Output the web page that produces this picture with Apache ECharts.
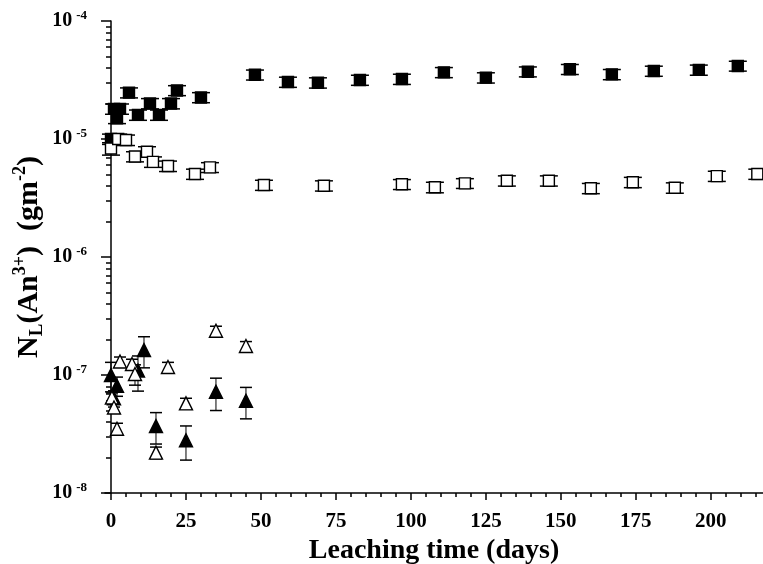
<!DOCTYPE html>
<html>
<head>
<meta charset="utf-8">
<script src="https://cdn.jsdelivr.net/npm/echarts@6/dist/echarts.min.js"></script>
<style>
html, body { margin: 0; padding: 0; background: #fff; }
#chart { width: 763px; height: 564px; }
</style>
</head>
<body>
<div id="chart"></div>
<script>
// leaching time (days) / N_L (g m^-2) / error (+-)
var fsqDays = [0, 1, 3, 2, 6, 9, 13, 16, 20, 22, 30, 48, 59, 69, 83, 97, 111, 125, 139, 153, 167, 181, 196, 209];
var fsqVals = [1.0e-5, 1.8e-5, 1.8e-5, 1.5e-5, 2.47e-5, 1.6e-5, 2.0e-5, 1.6e-5, 2.0e-5, 2.58e-5, 2.25e-5, 3.5e-5, 3.04e-5, 3.0e-5, 3.16e-5, 3.22e-5, 3.67e-5, 3.31e-5, 3.72e-5, 3.9e-5, 3.53e-5, 3.77e-5, 3.85e-5, 4.16e-5];
var fsqErr  = [1.0e-6, 1.8e-6, 1.8e-6, 1.5e-6, 2.4e-6, 1.6e-6, 2.0e-6, 1.6e-6, 2.0e-6, 2.5e-6, 2.2e-6, 3.4e-6, 3.0e-6, 3.0e-6, 3.1e-6, 3.2e-6, 3.6e-6, 3.3e-6, 3.6e-6, 3.8e-6, 3.5e-6, 3.7e-6, 3.8e-6, 4.0e-6];

var osqDays = [0, 2.4, 5, 8, 12, 14, 19, 28, 33, 51, 71, 97, 108, 118, 132, 146, 160, 174, 188, 202, 215.5];
var osqVals = [8.3e-6, 1.0e-5, 9.8e-6, 7.1e-6, 7.8e-6, 6.4e-6, 5.9e-6, 5.05e-6, 5.75e-6, 4.07e-6, 4.02e-6, 4.13e-6, 3.9e-6, 4.21e-6, 4.43e-6, 4.43e-6, 3.82e-6, 4.3e-6, 3.86e-6, 4.85e-6, 5.05e-6];
var osqErr  = [1.0e-6, 1.0e-6, 1.0e-6, 7.0e-7, 8.0e-7, 6.5e-7, 6.0e-7, 5.0e-7, 5.5e-7, 4.0e-7, 4.0e-7, 4.0e-7, 4.0e-7, 4.0e-7, 4.4e-7, 4.4e-7, 3.8e-7, 4.3e-7, 3.9e-7, 4.8e-7, 5.0e-7];

var ftrDays = [0, 1, 2, 9, 11, 15, 25, 35, 45];
var ftrVals = [1.0e-7, 6.35e-8, 8.1e-8, 1.09e-7, 1.63e-7, 3.7e-8, 2.8e-8, 7.2e-8, 6.05e-8];
var ftrErr  = [2.8e-8, 1.0e-8, 1.5e-8, 3.6e-8, 4.8e-8, 1.1e-8, 0.9e-8, 2.2e-8, 1.8e-8];

var otrDays = [0.3, 1, 2, 3, 7, 8, 15, 19, 25, 35, 45];
var otrVals = [6.45e-8, 5.3e-8, 3.5e-8, 1.3e-7, 1.24e-7, 1.02e-7, 2.2e-8, 1.17e-7, 5.75e-8, 2.37e-7, 1.76e-7];
var otrErr  = [6.0e-9, 5.0e-9, 4.0e-9, 1.2e-8, 1.2e-8, 2.0e-8, 2.5e-9, 1.1e-8, 6.0e-9, 2.2e-8, 1.6e-8];

var xMajor = [0, 25, 50, 75, 100, 125, 150, 175, 200];
var xMinor = [0, 5, 10, 15, 20, 25, 30, 35, 40, 45, 50, 55, 60, 65, 70, 75, 80, 85, 90, 95, 100, 105, 110, 115, 120, 125, 130, 135, 140, 145, 150, 155, 160, 165, 170, 175, 180, 185, 190, 195, 200, 205, 210, 215];
var yMajor = [1e-8, 1e-7, 1e-6, 1e-5, 1e-4];
var yMinor = [2e-8, 3e-8, 4e-8, 5e-8, 6e-8, 7e-8, 8e-8, 9e-8,
              2e-7, 3e-7, 4e-7, 5e-7, 6e-7, 7e-7, 8e-7, 9e-7,
              2e-6, 3e-6, 4e-6, 5e-6, 6e-6, 7e-6, 8e-6, 9e-6,
              2e-5, 3e-5, 4e-5, 5e-5, 6e-5, 7e-5, 8e-5, 9e-5];

var FONT = 'Liberation Serif';

function pts(d, v) { return d.map(function (x, i) { return [x, v[i]]; }); }
function bars(d, v, e) { return d.map(function (x, i) { return [x, v[i] - e[i], v[i] + e[i]]; }); }

function errRender(capW) {
    return function (params, api) {
        var x = api.value(0);
        var lo = api.coord([x, api.value(1)]);
        var hi = api.coord([x, api.value(2)]);
        return {
            type: 'group',
            children: [
                { type: 'line', shape: { x1: lo[0], y1: lo[1], x2: hi[0], y2: hi[1] }, style: { stroke: '#000', lineWidth: 1 } },
                { type: 'line', shape: { x1: lo[0] - capW, y1: lo[1], x2: lo[0] + capW, y2: lo[1] }, style: { stroke: '#000', lineWidth: 1.5 } },
                { type: 'line', shape: { x1: hi[0] - capW, y1: hi[1], x2: hi[0] + capW, y2: hi[1] }, style: { stroke: '#000', lineWidth: 1.5 } }
            ]
        };
    };
}

function errSeries(d, v, e, capW) {
    return {
        type: 'custom', renderItem: errRender(capW), data: bars(d, v, e),
        encode: { x: 0, y: [1, 2] }, z: 2, silent: true, clip: false
    };
}

function markSeries(d, v, symbol, size, filled) {
    return {
        type: 'scatter', data: pts(d, v), symbol: symbol, symbolSize: size, z: 3,
        itemStyle: { color: filled ? '#000' : '#fff', borderColor: '#000', borderWidth: 1.4, opacity: 1 },
        silent: true
    };
}

var chart = echarts.init(document.getElementById('chart'));
var option = {
    animation: false,
    backgroundColor: '#fff',
    grid: { left: 105, right: 0, top: 21, bottom: 71, containLabel: false, outerBoundsMode: 'none' },
    xAxis: [{
        type: 'value', min: -2, max: 217.4,
        name: 'Leaching time (days)', nameLocation: 'middle', nameGap: 41,
        nameTextStyle: { fontFamily: FONT, fontWeight: 'bold', fontSize: 28, color: '#000' },
        axisLine: { lineStyle: { color: '#000', width: 1.5 } },
        axisTick: { customValues: xMajor, length: 7, lineStyle: { color: '#000', width: 1.5 } },
        axisLabel: { customValues: xMajor, margin: 18, fontFamily: FONT, fontWeight: 'bold', fontSize: 21, color: '#000' },
        splitLine: { show: false }
    }, {
        type: 'value', min: -2, max: 217.4, position: 'bottom',
        axisLine: { show: false },
        axisTick: { customValues: xMinor, length: 4, lineStyle: { color: '#000', width: 1.5 } },
        axisLabel: { show: false },
        splitLine: { show: false }
    }],
    yAxis: [{
        type: 'log', logBase: 10, min: 1e-8, max: 1e-4,
        name: '{n|N}{sub|L}{n|(An}{sup|3+}{n|)  (gm}{sup|-2}{n|)}',
        nameLocation: 'middle', nameGap: 58, nameMoveOverlap: false,
        nameTextStyle: {
            color: '#000',
            rich: {
                n: { fontFamily: FONT, fontWeight: 'bold', fontSize: 30, lineHeight: 36 },
                sub: { fontFamily: FONT, fontWeight: 'bold', fontSize: 19, verticalAlign: 'bottom', lineHeight: 18 },
                sup: { fontFamily: FONT, fontWeight: 'bold', fontSize: 18, verticalAlign: 'top', lineHeight: 17 }
            }
        },
        axisLine: { lineStyle: { color: '#000', width: 1.5 } },
        axisTick: { customValues: yMajor, length: 10, lineStyle: { color: '#000', width: 1.5 } },
        axisLabel: {
            customValues: yMajor, margin: 18,
            formatter: function (v) {
                return '{b|10}{s|' + Math.round(Math.log10(v)) + '}';
            },
            rich: {
                b: { fontFamily: FONT, fontWeight: 'bold', fontSize: 20, color: '#000', lineHeight: 24 },
                s: { fontFamily: FONT, fontWeight: 'bold', fontSize: 13, color: '#000', verticalAlign: 'top', lineHeight: 13, padding: [0, 0, 0, 4] }
            }
        },
        splitLine: { show: false }
    }, {
        type: 'log', logBase: 10, min: 1e-8, max: 1e-4, position: 'left',
        axisLine: { show: false },
        axisTick: { customValues: yMinor, length: 5, lineStyle: { color: '#000', width: 1.5 } },
        axisLabel: { show: false },
        splitLine: { show: false }
    }],
    series: [
        errSeries(fsqDays, fsqVals, fsqErr, 9),
        errSeries(osqDays, osqVals, osqErr, 9),
        errSeries(ftrDays, ftrVals, ftrErr, 6),
        errSeries(otrDays, otrVals, otrErr, 6),
        markSeries(fsqDays, fsqVals, 'rect', 11, true),
        markSeries(osqDays, osqVals, 'rect', 11, false),
        markSeries(ftrDays, ftrVals, 'triangle', 13, true),
        markSeries(otrDays, otrVals, 'triangle', 13, false)
    ]
};
chart.setOption(option);
</script>
</body>
</html>
